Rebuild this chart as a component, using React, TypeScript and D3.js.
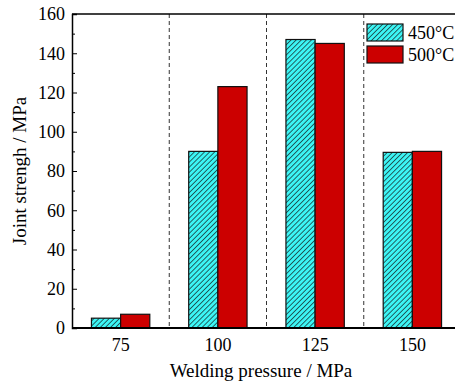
import React, { useEffect, useRef } from "react";
import * as d3 from "d3";

const categories = ["75", "100", "125", "150"];
const series = ["450°C", "500°C"];
const values450 = [5, 90, 147, 89.5];
const values500 = [7, 123, 145, 90];
const yTicks = [0, 20, 40, 60, 80, 100, 120, 140, 160];

const App = () => {
  const ref = useRef<SVGSVGElement>(null);

  useEffect(() => {
    const svg = d3.select(ref.current);
    svg.selectAll("*").remove();

    const margin = { top: 14, left: 72 };
    const plotW = 389;
    const plotH = 314;
    const font = "Liberation Serif";
    const colors = ["url(#hatch)", "#cc0000"];

    const defs = svg.append("defs");
    const pat = defs
      .append("pattern")
      .attr("id", "hatch")
      .attr("patternUnits", "userSpaceOnUse")
      .attr("width", 3.6)
      .attr("height", 3.6)
      .attr("patternTransform", "rotate(45)");
    pat.append("rect").attr("width", 3.6).attr("height", 3.6).attr("fill", "#3cf5f5");
    pat.append("line").attr("x1", 0).attr("y1", 0).attr("x2", 0).attr("y2", 3.6)
      .attr("stroke", "#111").attr("stroke-width", 1.3);

    const g = svg.append("g").attr("transform", `translate(${margin.left},${margin.top})`);

    const x = d3.scaleBand().domain(categories).range([0, plotW]);
    const xs = d3.scaleBand().domain(series).range([x.bandwidth() * 0.2, x.bandwidth() * 0.8]);
    const y = d3.scaleLinear().domain([0, 160]).range([plotH, 0]);

    // dashed separators
    categories.slice(1).forEach((c) => {
      g.append("line")
        .attr("x1", x(c)!).attr("x2", x(c)!)
        .attr("y1", 0).attr("y2", plotH)
        .attr("stroke", "#333").attr("stroke-dasharray", "4,3").attr("stroke-width", 1);
    });

    const data = [values450, values500];
    series.forEach((s, si) => {
      g.selectAll(`.bar${si}`)
        .data(categories)
        .enter()
        .append("rect")
        .attr("x", (c) => x(c)! + xs(s)!)
        .attr("y", (c, i) => y(data[si][i]))
        .attr("width", xs.bandwidth())
        .attr("height", (c, i) => plotH - y(data[si][i]))
        .attr("fill", colors[si])
        .attr("stroke", "#111")
        .attr("stroke-width", 1.2);
    });

    // frame
    g.append("line").attr("x1", 0).attr("x2", plotW).attr("y1", 0).attr("y2", 0)
      .attr("stroke", "#000").attr("stroke-width", 1.5);
    g.append("line").attr("x1", 0).attr("x2", plotW).attr("y1", plotH).attr("y2", plotH)
      .attr("stroke", "#000").attr("stroke-width", 2);

    // y axis
    const yAxis = g.append("g")
      .call(d3.axisLeft(y).tickValues(yTicks).tickSize(-5).tickPadding(7));
    yAxis.attr("font-family", font).attr("font-size", 18);
    yAxis.select(".domain").attr("stroke-width", 1.5);
    yAxis.selectAll("text").attr("fill", "#000");
    g.append("g")
      .call(d3.axisLeft(y).tickValues(d3.range(10, 160, 20)).tickSize(-3).tickFormat(() => ""))
      .select(".domain").remove();

    // x labels
    const xAxis = g.append("g")
      .attr("transform", `translate(0,${plotH})`)
      .call(d3.axisBottom(x).tickSize(0).tickPadding(10));
    xAxis.attr("font-family", font).attr("font-size", 18);
    xAxis.select(".domain").remove();
    xAxis.selectAll("text").attr("fill", "#000");

    svg.append("text")
      .attr("x", 261).attr("y", 377)
      .attr("text-anchor", "middle").attr("font-family", font).attr("font-size", 19)
      .text("Welding pressure / MPa");
    svg.append("text")
      .attr("transform", `translate(26,${margin.top + plotH / 2}) rotate(-90)`)
      .attr("text-anchor", "middle").attr("font-family", font).attr("font-size", 19)
      .text("Joint strengh / MPa");

    // legend
    const lg = svg.append("g").attr("transform", "translate(367,24)");
    series.forEach((s, i) => {
      lg.append("rect").attr("x", 0).attr("y", i * 22).attr("width", 36).attr("height", 17)
        .attr("fill", colors[i]).attr("stroke", "#111").attr("stroke-width", 1.2);
      lg.append("text").attr("x", 41).attr("y", i * 22 + 15)
        .attr("font-family", font).attr("font-size", 18).text(s);
    });
  }, []);

  return (
    <svg
      ref={ref}
      width={455}
      height={383}
      style={{ position: "absolute", left: 0, top: 0, background: "#fff" }}
    />
  );
};

export default App;
